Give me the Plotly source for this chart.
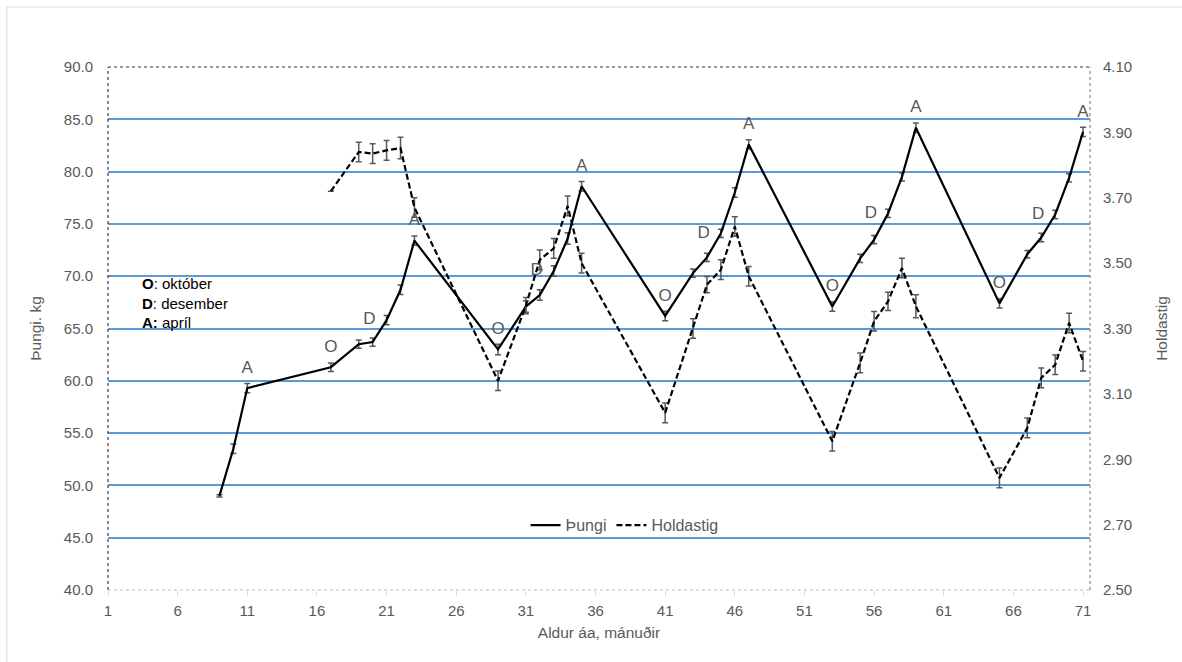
import plotly.graph_objects as go

# ---- data ----
months_w = [9, 10, 11, 17, 19, 20, 21, 22, 23, 29, 31, 32, 33, 34, 35, 41, 43, 44, 45, 46, 47,
            53, 55, 56, 57, 58, 59, 65, 67, 68, 69, 70, 71]
weight = [49.0, 53.5, 59.3, 61.3, 63.5, 63.7, 65.8, 68.7, 73.4, 63.0, 67.1, 68.2, 70.5, 73.6, 78.6,
          66.2, 70.3, 71.8, 74.1, 78.0, 82.6, 67.1, 71.7, 73.5, 76.0, 79.5, 84.2,
          67.4, 72.1, 73.7, 75.9, 79.4, 83.8]
weight_err = [0.1, 0.45, 0.45, 0.4, 0.4, 0.4, 0.45, 0.45, 0.45, 0.5, 0.55, 0.5, 0.5, 0.55, 0.45,
              0.45, 0.4, 0.4, 0.4, 0.45, 0.45, 0.45, 0.4, 0.4, 0.4, 0.4, 0.45,
              0.45, 0.35, 0.4, 0.4, 0.4, 0.45]
weight_labels = ["", "", "A", "O", "", "", "D", "", "A", "O", "", "", "D", "", "A",
                 "O", "", "", "D", "", "A", "O", "", "", "D", "", "A",
                 "O", "", "", "D", "", "A"]

months_h = [17, 19, 20, 21, 22, 23, 29, 31, 32, 33, 34, 35, 41, 43, 44, 45, 46, 47,
            53, 55, 56, 57, 58, 59, 65, 67, 68, 69, 70, 71]
holda = [3.72, 3.84, 3.835, 3.845, 3.852, 3.67, 3.14, 3.37, 3.51, 3.545, 3.675, 3.50,
         3.042, 3.30, 3.434, 3.48, 3.612, 3.46, 2.955, 3.195, 3.322, 3.383, 3.485, 3.368,
         2.843, 2.996, 3.149, 3.189, 3.317, 3.20]
holda_err = [0, 0.03, 0.03, 0.03, 0.033, 0.03, 0.03, 0.025, 0.03, 0.03, 0.03, 0.03,
             0.03, 0.03, 0.025, 0.03, 0.03, 0.03, 0.03, 0.03, 0.03, 0.028, 0.03, 0.035,
             0.03, 0.03, 0.03, 0.03, 0.03, 0.03]

x_ticks = [1, 6, 11, 16, 21, 26, 31, 36, 41, 46, 51, 56, 61, 66, 71]
y_ticks = [40, 45, 50, 55, 60, 65, 70, 75, 80, 85, 90]
y2_ticks = [2.5, 2.7, 2.9, 3.1, 3.3, 3.5, 3.7, 3.9, 4.1]

FONT = "Liberation Sans, Arial, sans-serif"
GREY = "#595959"

fig = go.Figure()

fig.add_trace(go.Scatter(
    x=months_w, y=weight, mode="lines", name="Þungi",
    line=dict(color="black", width=2.2),
    error_y=dict(type="data", array=weight_err, visible=True, color=GREY, thickness=1.5, width=3),
))
fig.add_trace(go.Scatter(
    x=months_h, y=holda, mode="lines", name="Holdastig", yaxis="y2",
    line=dict(color="black", width=2.2, dash="6px,3px"),
    error_y=dict(type="data", array=holda_err, visible=True, color=GREY, thickness=1.5, width=3),
))
# month letters on the weight series
fig.add_trace(go.Scatter(
    x=months_w, y=weight, mode="markers+text", showlegend=False, hoverinfo="skip",
    marker=dict(size=16, color="rgba(0,0,0,0)"),
    text=weight_labels,
    textposition=["middle left" if t == "D" else "top center" for t in weight_labels],
    textfont=dict(size=17, color=GREY, family=FONT),
))

fig.update_layout(
    width=1182, height=662,
    margin=dict(l=108, r=92, t=67, b=72),
    paper_bgcolor="white", plot_bgcolor="white",
    font=dict(family=FONT, color=GREY),
    showlegend=True,
    legend=dict(orientation="h", x=0.526, xanchor="center", y=0.124, yanchor="middle",
                font=dict(size=16, color=GREY), bgcolor="rgba(0,0,0,0)", traceorder="normal"),
    xaxis=dict(range=[1, 71.5], tickvals=x_ticks, ticks="outside", ticklen=5,
               tickcolor="#d9d9d9", showgrid=False, zeroline=False, showline=False,
               tickfont=dict(size=15, color=GREY), ticklabelstandoff=2,
               title=dict(text="Aldur áa, mánuðir", font=dict(size=15.5, color=GREY), standoff=9)),
    yaxis=dict(range=[40, 90], tickvals=y_ticks, tickformat=".1f", showgrid=False,
               zeroline=False, showline=False, ticks="",
               tickfont=dict(size=15, color=GREY), ticklabelstandoff=14,
               minor=dict(tickvals=y_ticks[1:-1], showgrid=True, gridcolor="#5B9BD5", gridwidth=1.6, ticks=""),
               title=dict(text="Þungi. kg", font=dict(size=15.5, color=GREY), standoff=18)),
    yaxis2=dict(range=[2.5, 4.1], tickvals=y2_ticks, tickformat=".2f", overlaying="y", side="right",
                showgrid=False, zeroline=False, showline=False, ticks="",
                tickfont=dict(size=15, color=GREY), ticklabelstandoff=12,
                title=dict(text="Holdastig", font=dict(size=15.5, color=GREY), standoff=24)),
)

line_shapes = [
    dict(x0=0, x1=1, y0=1, y1=1, color="#1F3864"),
    dict(x0=0, x1=0, y0=0, y1=1, color="#404040"),
    dict(x0=1, x1=1, y0=0, y1=1, color="#8c8c8c"),
    dict(x0=0, x1=1, y0=0, y1=0, color="#bfbfbf"),
]
for s in line_shapes:
    fig.add_shape(type="line", xref="paper", yref="paper", x0=s["x0"], x1=s["x1"],
                  y0=s["y0"], y1=s["y1"], line=dict(color=s["color"], width=1.2, dash="dot"),
                  layer="above")

# outer chart frame (top and left edges visible)
fig.add_shape(type="line", xref="paper", yref="paper", x0=-0.103, x1=1.1, y0=1.1147, y1=1.1147,
              line=dict(color="#d9d9d9", width=1))
fig.add_shape(type="line", xref="paper", yref="paper", x0=-0.103, x1=-0.103, y0=-0.2, y1=1.1147,
              line=dict(color="#d9d9d9", width=1))

fig.add_annotation(
    xref="paper", yref="paper", x=0.0326, y=0.5497, xanchor="left", yanchor="middle",
    align="left", showarrow=False,
    text="<b>O</b>: október<br><b>D</b>: desember<br><b>A:</b> apríl",
    font=dict(size=15, color="black", family=FONT),
)

fig.write_html("out.html", config={"displayModeBar": False},
               post_script="document.body.style.margin='0';")
